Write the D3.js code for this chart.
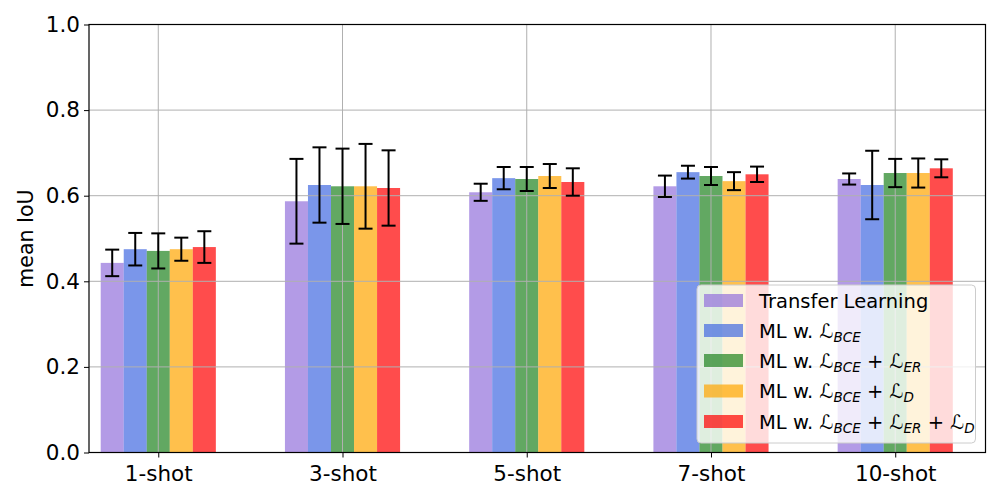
<!DOCTYPE html>
<html>
<head>
<meta charset="utf-8">
<script src="https://cdn.jsdelivr.net/npm/d3@7"></script>
<style>
  html, body { margin: 0; padding: 0; background: #fff; }
  svg { display: block; font-family: "DejaVu Sans", sans-serif; }
</style>
</head>
<body>
<svg id="chart" width="1000" height="500"></svg>
<script>
// ---- data ----
const categories = ["1-shot", "3-shot", "5-shot", "7-shot", "10-shot"];
const seriesNames = ["Transfer Learning", "ML w. BCE", "ML w. BCE+ER", "ML w. BCE+D", "ML w. BCE+ER+D"];
const transferLearning = [0.443, 0.587, 0.608, 0.622, 0.639];
const mlBCE            = [0.475, 0.625, 0.641, 0.655, 0.625];
const mlBCE_ER         = [0.471, 0.622, 0.639, 0.646, 0.653];
const mlBCE_D          = [0.475, 0.622, 0.646, 0.634, 0.653];
const mlBCE_ER_D       = [0.480, 0.618, 0.632, 0.650, 0.664];
const errTransfer      = [0.031, 0.099, 0.020, 0.025, 0.013];
const errBCE           = [0.038, 0.088, 0.026, 0.015, 0.080];
const errBCE_ER        = [0.041, 0.088, 0.028, 0.021, 0.033];
const errBCE_D         = [0.027, 0.099, 0.028, 0.021, 0.034];
const errBCE_ER_D      = [0.037, 0.088, 0.032, 0.018, 0.021];
const yTicks = [0.0, 0.2, 0.4, 0.6, 0.8, 1.0];
const yLabel = "mean IoU";

const seriesValues = [transferLearning, mlBCE, mlBCE_ER, mlBCE_D, mlBCE_ER_D];
const seriesErrors = [errTransfer, errBCE, errBCE_ER, errBCE_D, errBCE_ER_D];
const colors = ["#9370DB", "#4169E1", "#208320", "#FFA500", "#FF0000"];
const barAlpha = 0.7;

// legend label subscripts for each script-L term
const legendParts = [
  null,
  ["BCE"],
  ["BCE", "ER"],
  ["BCE", "D"],
  ["BCE", "ER", "D"]
];

// ---- layout ----
const mLeft = 89, mRight = 985.5, mTop = 24.5, mBottom = 452.5;
const svg = d3.select("#chart");

const x = d3.scaleLinear().domain([-0.376, 4.49]).range([mLeft, mRight]);
const y = d3.scaleLinear().domain([0, 1]).range([mBottom, mTop]);
const barW = 0.125;

const rows = [];
seriesValues.forEach((vals, s) => {
  vals.forEach((v, i) => {
    rows.push({ s, i, v, e: seriesErrors[s][i], cx: i + (s - 2) * barW });
  });
});

// bars
svg.append("g").selectAll("rect").data(rows).join("rect")
  .attr("x", d => x(d.cx - barW / 2))
  .attr("width", d => x(d.cx + barW / 2) - x(d.cx - barW / 2))
  .attr("y", d => y(d.v))
  .attr("height", d => y(0) - y(d.v))
  .attr("fill", d => colors[d.s])
  .attr("fill-opacity", barAlpha);

// grid (above bars, like matplotlib's default)
const grid = svg.append("g").attr("stroke", "#b0b0b0").attr("stroke-width", 1);
grid.selectAll("line.h").data(yTicks).join("line").attr("class", "h")
  .attr("x1", mLeft).attr("x2", mRight)
  .attr("y1", d => y(d)).attr("y2", d => y(d));
grid.selectAll("line.v").data(categories).join("line").attr("class", "v")
  .attr("x1", (d, i) => x(i)).attr("x2", (d, i) => x(i))
  .attr("y1", mTop).attr("y2", mBottom);

// error bars
const eb = svg.append("g").attr("stroke", "#000").attr("stroke-width", 2);
const cap = 7;
rows.forEach(d => {
  const cx = x(d.cx);
  eb.append("line").attr("x1", cx).attr("x2", cx).attr("y1", y(d.v - d.e)).attr("y2", y(d.v + d.e));
  eb.append("line").attr("x1", cx - cap).attr("x2", cx + cap).attr("y1", y(d.v + d.e)).attr("y2", y(d.v + d.e));
  eb.append("line").attr("x1", cx - cap).attr("x2", cx + cap).attr("y1", y(d.v - d.e)).attr("y2", y(d.v - d.e));
});

// axes
const yAxis = d3.axisLeft(y).tickValues(yTicks).tickFormat(d3.format(".1f")).tickSize(5).tickPadding(4);
const gy = svg.append("g").attr("transform", `translate(${mLeft},0)`).call(yAxis);
gy.select(".domain").remove();
gy.selectAll("text").attr("font-size", 21.5).attr("font-family", "DejaVu Sans").attr("fill", "#000");
gy.selectAll("line").attr("stroke", "#000").attr("stroke-width", 1);

const xAxis = d3.axisBottom(x).tickValues(d3.range(categories.length)).tickFormat(i => categories[i]).tickSize(5).tickPadding(8);
const gx = svg.append("g").attr("transform", `translate(0,${mBottom})`).call(xAxis);
gx.select(".domain").remove();
gx.selectAll("text").attr("font-size", 21.5).attr("font-family", "DejaVu Sans").attr("fill", "#000");
gx.selectAll("line").attr("stroke", "#000").attr("stroke-width", 1);

// frame
svg.append("rect").attr("x", mLeft).attr("y", mTop).attr("width", mRight - mLeft).attr("height", mBottom - mTop)
  .attr("fill", "none").attr("stroke", "#000").attr("stroke-width", 1.2);

// y label
svg.append("text").attr("transform", `translate(33,${(mTop + mBottom) / 2}) rotate(-90)`)
  .attr("text-anchor", "middle").attr("font-size", 20.5).attr("fill", "#000").text(yLabel);

// legend
const lg = svg.append("g");
lg.append("rect").attr("x", 697).attr("y", 285).attr("width", 278.5).attr("height", 158)
  .attr("rx", 4).attr("fill", "#fff").attr("fill-opacity", 0.8)
  .attr("stroke", "#cccccc").attr("stroke-width", 1);
const rowY = [300.5, 330.5, 360.5, 391, 421.5];
seriesNames.forEach((name, s) => {
  lg.append("rect").attr("x", 704).attr("y", rowY[s] - 6.5).attr("width", 39).attr("height", 13)
    .attr("fill", colors[s]).attr("fill-opacity", barAlpha);
  const t = lg.append("text").attr("x", 759).attr("y", rowY[s] + 7).attr("font-size", 19.5).attr("fill", "#000");
  const parts = legendParts[s];
  if (!parts) { t.text(name); return; }
  t.append("tspan").text("ML w. ");
  parts.forEach((p, k) => {
    if (k > 0) t.append("tspan").attr("dy", -4).text(" + ");
    t.append("tspan").attr("font-style", "italic").attr("dy", k > 0 ? 0 : 0).text("ℒ");
    t.append("tspan").attr("font-style", "italic").attr("font-size", 13.5).attr("dy", 4).text(p);
  });
});
</script>
</body>
</html>
